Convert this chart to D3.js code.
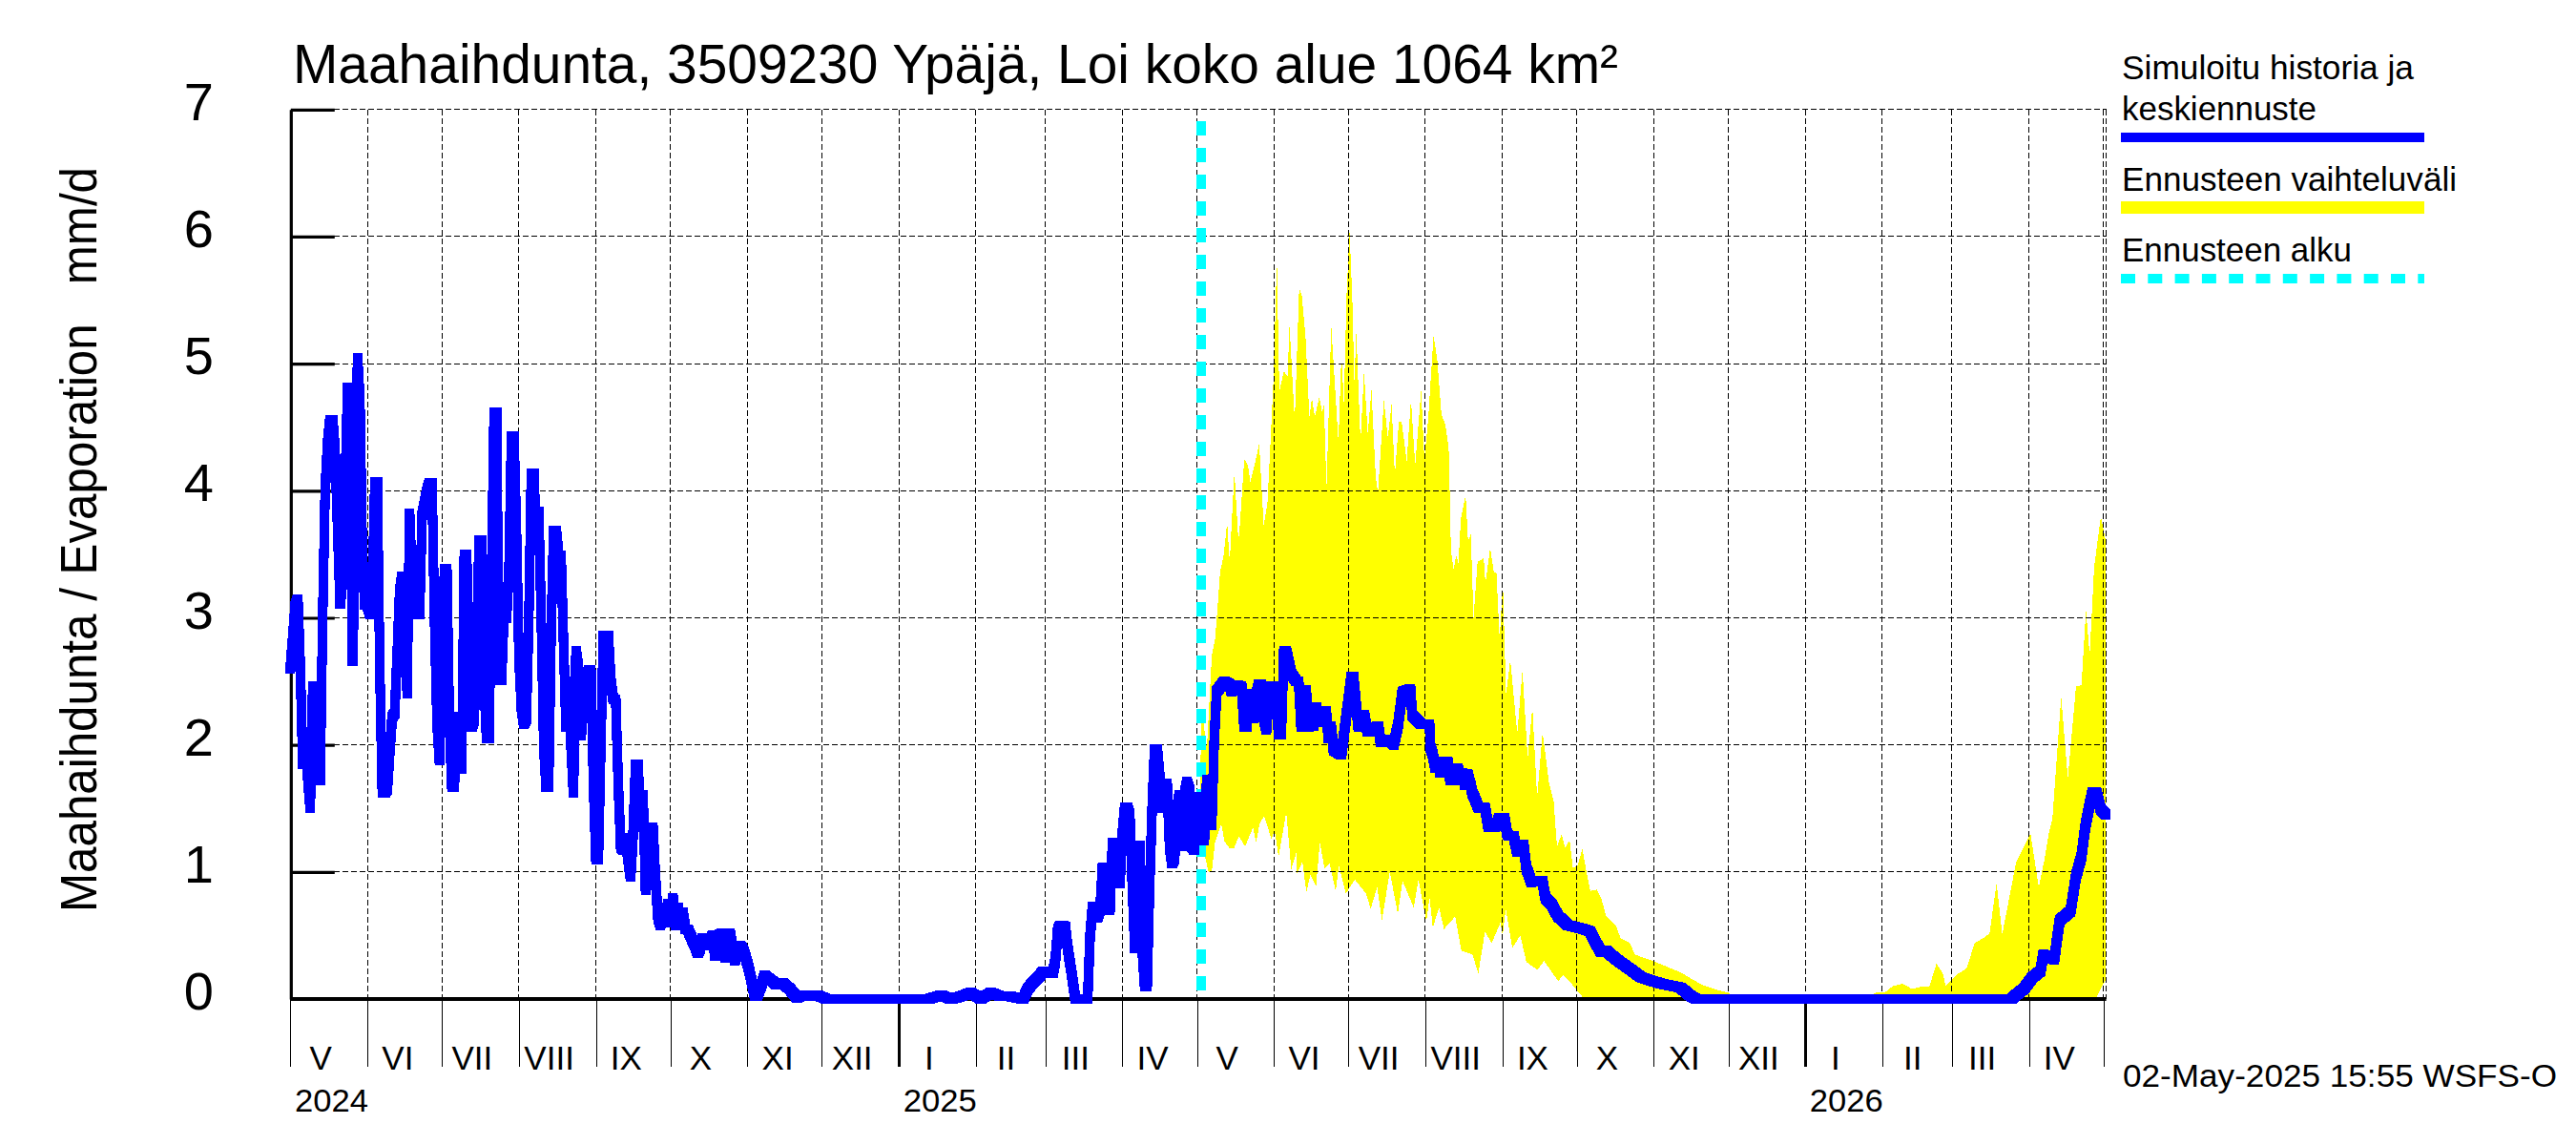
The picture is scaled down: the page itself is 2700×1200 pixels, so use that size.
<!DOCTYPE html>
<html><head><meta charset="utf-8">
<script src="https://cdn.jsdelivr.net/npm/d3@7"></script>
<style>
html,body{margin:0;padding:0;background:#fff}
svg{display:block}
text{font-family:"Liberation Sans",Arial,sans-serif;fill:#000;white-space:pre}
</style></head><body>
<svg id="c" width="2700" height="1200"></svg>
<script>
const titleText = "Maahaihdunta, 3509230 Ypäjä, Loi koko alue 1064 km²";
const yLabelText = "Maahaihdunta / Evaporation   mm/d";
const stampText = "02-May-2025 15:55 WSFS-O";
const monthLabels = ["V","VI","VII","VIII","IX","X","XI","XII","I","II","III","IV","V","VI","VII","VIII","IX","X","XI","XII","I","II","III","IV"];
const yearLabels = ["2024","2025","2026"];
const yTicks = [0,1,2,3,4,5,6,7];
const legendEntries = ["Simuloitu historia ja","keskiennuste","Ennusteen vaihteluväli","Ennusteen alku"];

// days since 1 May 2024, value in mm/d
const histDays = [0,1,2,3,4,5,6,7,8,9,10,11,12,13,14,15,16,17,18,19,20,21,22,23,24,25,26,27,28,29,30,31,32,33,34,35,36,37,38,39,40,41,42,43,44,45,46,47,48,49,50,51,52,53,54,55,56,57,58,59,60,61,62,63,64,65,66,67,68,69,70,71,72,73,74,75,76,77,78,79,80,81,82,83,84,85,86,87,88,89,90,91,92,93,94,95,96,97,98,99,100,101,102,103,104,105,106,107,108,109,110,111,112,113,114,115,116,117,118,119,120,121,122,123,124,125,126,127,128,129,130,131,132,133,134,135,136,137,138,139,140,141,142,143,144,145,146,147,148,149,150,151,152,153,154,155,156,157,158,159,160,161,163,164,165,166,168,170,171,172,174,175,176,177,178,179,180,181,182,183,184,185,186,187,188,191,192,196,198,201,204,206,209,212,216,257,262,266,270,274,278,282,286,290,295,297,299,302,303,305,307,308,309,310,311,312,313,315,316,320,321,322,323,
  325,326,327,328,329,330,331,332,333,334,335,336,337,338,339,340,341,342,343,344,345,346,347,348,349,350,351,352,353,354,355,356,357,358,359,360,361,362,363,364,365,366,367,368,369,370,371,372,373,
  376,378,379,381,383,384,385,386,387,388,389,390,391,392,393,394,395,396,397,398,399,400,401,403,
  405,406,407,408,409,410,411,412,413,414,415,416,417,418,419,420,
  423.2,425,427.2,428,430,432.4,433.7,436,438,439,442.7,444.2,446,447.8,451,451.7,455.5,458.7,
  459,460,461,462,463,464,465,466,467,468,469,470,471,472,473,474,475,476,
  478.5,481,482.4,485,486.9,488.8,490,492.6,493.9,496.5,497.7,499.7,504.1,505.4,508,510.5,514.5,520.9,523.4,526,527.7,529.8,534,539.8,544,552,559.7,564,566,693,694,698,701.4,704.7,705.8,710.2,712.4,716.8,719,721.2,722.8,725.6,727.2,729,731];
const histValues = [2.6,2.85,3.1,3.15,2.6,1.85,2.1,1.75,1.5,2.46,2.46,1.72,1.72,3.0,4.0,4.37,4.56,4.56,4.3,3.7,3.11,3.3,4.0,4.81,4.81,2.66,3.4,5.05,4.7,3.5,3.1,3.1,3.03,3.2,4.07,4.07,2.6,1.62,1.62,1.65,1.95,2.22,2.25,2.7,3.2,3.33,3.33,2.4,3.82,3.3,3.2,3.03,3.03,3.8,3.9,4.0,4.06,4.06,3.0,2.2,1.88,2.5,3.39,3.39,2.2,1.67,1.67,2.22,2.22,1.81,3.5,3.5,2.6,2.14,2.2,2.8,3.61,3.61,2.5,2.05,2.05,3.3,4.62,4.62,2.51,2.51,3.05,3.0,3.4,4.43,4.43,3.7,2.7,2.3,2.16,2.2,3.0,4.14,4.14,3.6,3.84,3.0,2.0,1.67,1.67,2.9,3.69,3.69,3.49,3.49,2.8,2.14,2.5,2.0,1.62,2.74,2.6,2.07,2.3,2.45,2.59,2.59,1.7,1.1,1.1,2.0,2.86,2.86,2.86,2.5,2.36,2.36,1.7,1.2,1.17,1.27,1.1,0.96,1.3,1.85,1.85,1.35,1.61,0.86,1.2,1.35,1.35,0.95,0.65,0.58,0.72,0.6,0.75,0.6,0.8,0.58,0.72,0.6,0.68,0.55,0.55,0.5,0.42,0.36,0.4,0.48,0.42,0.5,0.34,0.5,0.52,0.32,0.5,0.52,0.4,0.3,0.36,0.42,0.4,0.35,0.28,0.2,0.12,0.02,0.02,0.19,0.17,0.11,0.13,0.08,0.01,0.03,0.02,0.03,0,0,0.03,0,0.02,0.05,0,0.05,0.02,0.02,0,0.08,0.13,0.19,0.22,0.2,0.2,0.3,0.54,0.58,0.58,0.57,0.4,0.15,0,0,0,0.5,0.73,
  0.64,0.7,1.04,1.04,0.7,0.7,1.23,1.23,0.95,0.91,1.3,1.51,1.51,1.45,0.9,0.4,1.21,1.21,0.4,0.1,0.1,0.9,1.5,1.97,1.97,1.75,1.5,1.7,1.7,1.2,1.07,1.1,1.5,1.61,1.2,1.6,1.71,1.65,1.2,1.17,1.59,1.3,1.4,1.25,1.73,1.7,1.37,2.04,2.42,
  2.5,2.48,2.42,2.47,2.46,2.14,2.14,2.4,2.38,2.21,2.4,2.48,2.48,2.2,2.12,2.46,2.46,2.46,2.3,2.08,2.08,2.74,2.74,2.56,
  2.5,2.5,2.14,2.3,2.43,2.14,2.3,2.15,2.3,2.18,2.27,2.2,2.27,2.05,2.15,1.96,
  1.92,2.2,2.54,2.54,2.14,2.24,2.1,2.12,2.15,2.02,2.04,2.0,2.15,2.42,2.44,2.23,2.16,2.16,
  1.98,1.92,1.82,1.87,1.78,1.87,1.8,1.87,1.72,1.79,1.72,1.82,1.74,1.78,1.68,1.77,1.7,1.62,
  1.5,1.51,1.35,1.35,1.43,1.43,1.29,1.28,1.16,1.22,1.03,0.92,0.93,0.79,0.74,0.65,0.58,0.55,0.53,0.43,0.37,0.38,0.31,0.23,0.17,0.12,0.09,0.02,0,0,0.02,0.08,0.17,0.22,0.35,0.31,0.62,0.69,0.97,1.12,1.37,1.63,1.63,1.49,1.45];

const upperDays = [366,367,369,371,372.3,373.3,374.4,375.7,377.2,378.2,380.1,381.6,382,384.1,385.6,386.5,388.2,390.1,391.9,393.4,394.8,395.9,397.2,398.2,400,401.5,402.3,404.4,406.2,407.3,408.8,410.3,411.3,412.5,414.3,415.4,416.2,417.2,419.1,422,423.2,424.2,425.3,426.5,427.6,428.4,429.2,430.9,432.3,433.8,435.3,437,437.9,440.3,441.9,443.4,444.7,446.3,447.5,449.5,451.2,452.9,455.3,456.6,458.1,460.3,461.8,463.5,465.1,466.4,466.9,467.3,468.4,469.4,470.3,471.3,473.2,474.2,475.3,476.4,478,480.5,481.2,483.1,484.6,485.6,486.9,488.2,489.5,491.2,494,496.1,498.2,500.1,502,504.2,506.8,508.7,510,511.9,513.2,515.1,516.4,518.3,520.2,522.1,523.4,526,527.9,529.8,533.7,535.6,539.4,541.3,548.6,559.7,568.5,574.6,579,582,624,625,636,638.5,641.9,645.2,649,653,657.3,660,662.8,665.4,666.5,671.6,674.9,678.2,682.6,684.2,687,689.3,694.8,698,700.7,704,706.2,708,709.5,713,715.7,719,721.2,723,724.5,726.3,729,731];
const upperValues = [1.5,2.28,1.97,2.7,2.83,3.07,3.37,3.48,3.75,3.44,4.15,3.65,3.64,4.25,4.2,4.07,4.2,4.37,3.73,3.9,4.45,4.9,5.83,4.78,4.94,4.9,5.3,4.55,5.6,5.53,5.2,4.58,4.73,4.58,4.74,4.62,4.68,4.02,5.3,4.38,5.07,4.69,5.55,6.04,5.5,4.87,5.25,4.38,4.94,4.45,4.79,4.11,3.98,4.71,4.42,4.68,4.12,4.54,4.54,4.23,4.72,4.2,4.79,4.25,4.55,5.22,5.03,4.6,4.52,4.33,3.93,3.53,3.38,3.49,3.43,3.78,3.97,3.6,3.66,3.0,3.44,3.47,3.27,3.55,3.36,3.36,2.83,3.28,2.4,2.67,2.09,2.59,1.89,2.3,1.59,2.1,1.7,1.55,1.2,1.3,1.19,1.25,1.03,1.05,1.18,0.98,0.85,0.86,0.79,0.65,0.58,0.48,0.44,0.35,0.3,0.21,0.11,0.07,0.05,0,0,0.03,0.03,0.05,0.05,0.1,0.12,0.08,0.1,0.1,0.28,0.2,0.1,0.2,0.24,0.44,0.49,0.52,0.91,0.51,1.07,1.2,1.3,0.88,1.09,1.3,1.42,2.38,1.74,2.46,2.47,3.06,2.71,3.4,3.8,3.6];

const lowerDays = [366,367,369.7,371,372.3,374.8,376.1,378,380,381.9,384.4,387.6,388.9,390.2,392.1,395,396.3,397.9,401,403,405,405.3,407.5,409.1,410.7,413,414.5,416.4,418.4,420.9,422.2,425,428.6,433.1,435,437.6,439.5,442.7,445.9,447.8,452.3,454.2,457.4,458.7,460,462.5,464.5,469,471.5,476,478.3,481,483.7,487.2,488.1,489.4,492,495.2,497.7,502.2,504.8,510.5,512.5,515,521,524,727,730,731];
const lowerValues = [1.5,1.23,1.0,1.0,1.23,1.38,1.24,1.19,1.19,1.28,1.2,1.35,1.23,1.38,1.44,1.26,1.33,1.12,1.47,1.02,1.15,0.99,1.08,0.84,0.98,0.89,1.23,1.03,1.07,0.85,1.05,0.83,0.94,0.83,0.71,0.88,0.62,1.0,0.67,0.93,0.72,0.94,0.61,0.8,0.56,0.72,0.55,0.65,0.38,0.35,0.2,0.53,0.44,0.6,0.5,0.71,0.4,0.5,0.29,0.23,0.3,0.14,0.19,0.14,0,0,0,0.12,0.15];

const forecastStartDay = 366.6;

const DAY = 864e5, T0 = Date.UTC(2024,4,1);
const dayDate = d => new Date(T0 + d*DAY);
const x = d3.scaleUtc().domain([dayDate(0), dayDate(730)]).range([304.4, 2204.6]);
const xEnd = 2207.6;
const y = d3.scaleLinear().domain([0,7]).range([1047,114.8]);
const months = d3.utcMonth.range(dayDate(0), dayDate(731));
const years = [dayDate(0), new Date(Date.UTC(2025,0,1)), new Date(Date.UTC(2026,0,1))];
const svg = d3.select("#c");

// yellow forecast range
const lineXY = d3.line().x(p=>x(dayDate(p[0]))).y(p=>y(p[1]));
const upper = upperDays.map((d,i)=>[d,upperValues[i]]);
const lower = lowerDays.map((d,i)=>[d,lowerValues[i]]).reverse();
svg.append("path").attr("d", lineXY(upper.concat(lower))+"Z").attr("fill","#ffff00").attr("shape-rendering","crispEdges");

// grid
const grid = svg.append("g").attr("stroke","#000").attr("stroke-width",1).attr("stroke-dasharray","6 3").attr("shape-rendering","crispEdges");
grid.selectAll("line.h").data(yTicks.slice(1)).join("line").attr("class","h")
  .attr("x1",350).attr("x2",xEnd).attr("y1",d=>y(d)).attr("y2",d=>y(d));
grid.selectAll("line.v").data(months.slice(1)).join("line").attr("class","v")
  .attr("x1",d=>x(d)).attr("x2",d=>x(d)).attr("y1",y(7)).attr("y2",y(0));
grid.append("line").attr("x1",xEnd).attr("x2",xEnd).attr("y1",y(7)).attr("y2",y(0));

// axes
const yAxis = d3.axisLeft(y).tickValues(yTicks).tickSizeInner(-46).tickSizeOuter(0).tickPadding(81).tickFormat(d3.format("d"));
const gy = svg.append("g").attr("transform","translate(304.8,0)").call(yAxis);
gy.select(".domain").attr("stroke","#000").attr("stroke-width",3.2);
gy.selectAll(".tick line").attr("stroke","#000").attr("stroke-width",3.2);
gy.selectAll(".tick text").attr("font-size",56).attr("dy","0.19em").style("font-family",'"Liberation Sans"');

svg.append("line").attr("x1",304).attr("x2",xEnd).attr("y1",y(0)).attr("y2",y(0)).attr("stroke","#000").attr("stroke-width",4);

const xAxis = d3.axisBottom(x).tickValues(months).tickSize(71).tickFormat("");
const gx = svg.append("g").attr("transform",`translate(0,${y(0)})`).call(xAxis);
gx.select(".domain").remove();
gx.selectAll(".tick line").attr("stroke","#000").attr("stroke-width",d=>d.getUTCMonth()===0?3:1).attr("shape-rendering","crispEdges");

const monthMid = months.slice(0,24).map(m=>new Date(+m+12*DAY));
const xLab = d3.axisBottom(x).tickValues(monthMid).tickSize(0).tickPadding(0).tickFormat((d,i)=>monthLabels[i]);
const gl = svg.append("g").attr("transform","translate(0,1120.5)").call(xLab);
gl.select(".domain").remove();
gl.selectAll("text").attr("font-size",35).attr("y",0).attr("dy",0).style("font-family",'"Liberation Sans"');

const yLab = d3.axisBottom(x).tickValues(years).tickSize(0).tickPadding(0).tickFormat((d,i)=>yearLabels[i]);
const gyr = svg.append("g").attr("transform","translate(0,1164.5)").call(yLab);
gyr.select(".domain").remove();
gyr.selectAll("text").attr("font-size",33).attr("y",0).attr("dy",0).attr("dx",4).attr("text-anchor","start").attr("textLength",77).attr("lengthAdjust","spacingAndGlyphs").style("font-family",'"Liberation Sans"');

// forecast start
svg.append("line").attr("x1",x(dayDate(forecastStartDay))).attr("x2",x(dayDate(forecastStartDay)))
  .attr("y1",127).attr("y2",y(0)).attr("stroke","#00ffff").attr("stroke-width",10).attr("stroke-dasharray","15 13").attr("shape-rendering","crispEdges");

// blue series, drawn with a square pen: each segment is the hull of the pen at both ends
const PEN = 5;
const pts = histDays.map((d,i)=>[x(dayDate(d)), y(histValues[i])]);
const corners = p => [[p[0]-PEN,p[1]-PEN],[p[0]+PEN,p[1]-PEN],[p[0]+PEN,p[1]+PEN],[p[0]-PEN,p[1]+PEN]];
const segPath = d3.pairs(pts).map(([a,b]) => "M" + d3.polygonHull(corners(a).concat(corners(b))).map(q=>q[0].toFixed(1)+","+q[1].toFixed(1)).join("L") + "Z").join("");
svg.append("path").attr("d",segPath).attr("fill","#0000ff").attr("shape-rendering","crispEdges");

// texts
function txt(s,xp,yp,size,len){const t=svg.append("text").attr("x",xp).attr("y",yp).attr("font-size",size).text(s);
  if(len) t.attr("textLength",len).attr("lengthAdjust","spacingAndGlyphs"); return t;}
txt(titleText,307,87,56.5,1389);
svg.append("text").attr("transform","translate(100.5,956) rotate(-90)").attr("font-size",54)
  .attr("textLength",781).attr("lengthAdjust","spacingAndGlyphs").text(yLabelText);
txt(stampText,2225,1139,33,455);
txt(legendEntries[0],2224,83,35,306);
txt(legendEntries[1],2224,126,35,204);
txt(legendEntries[2],2224,200,35,351);
txt(legendEntries[3],2224,274,35,241);

// legend keys
svg.append("line").attr("x1",2223).attr("x2",2541).attr("y1",144).attr("y2",144).attr("stroke","#0000ff").attr("stroke-width",10);
svg.append("line").attr("x1",2223).attr("x2",2541).attr("y1",217.5).attr("y2",217.5).attr("stroke","#ffff00").attr("stroke-width",13);
svg.append("line").attr("x1",2223).attr("x2",2541).attr("y1",292).attr("y2",292).attr("stroke","#00ffff").attr("stroke-width",10).attr("stroke-dasharray","15 13.3");
</script>
</body></html>
